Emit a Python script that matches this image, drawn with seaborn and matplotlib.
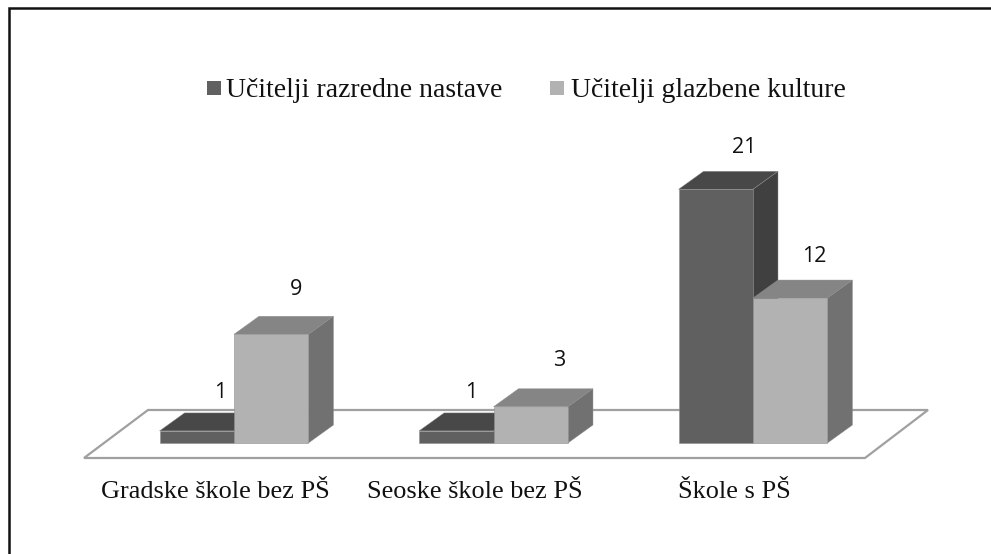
import matplotlib
matplotlib.use("Agg")
import matplotlib.pyplot as plt
import pandas as pd
import seaborn as sns
from matplotlib.lines import Line2D
from matplotlib.patches import Polygon, Rectangle

# data
kategorije = ["Gradske škole bez PŠ", "Seoske škole bez PŠ", "Škole s PŠ"]
razredna = [1, 1, 21]
glazbena = [9, 3, 12]
serije = ["Učitelji razredne nastave", "Učitelji glazbene kulture"]

W, H = 991, 554
PX_CAT = 259.5   # pixels between groups
PX_VAL = 12.08   # pixels per unit
X0, Y0 = 234, 443  # pixel of first group / baseline
DX, DY = 25, 18   # depth of the 3d boxes, pixels

# how far each number sits from its bar (pixels)
pomak_x = [23, 15, 28, 25, 28, 24]
pomak_y = [38, 38, 42, 45, 46, 42]

df = pd.DataFrame({
    "kat": kategorije * 2,
    "serija": [serije[0]] * 3 + [serije[1]] * 3,
    "broj": razredna + glazbena,
})

sns.set_theme(style="white")
fig = plt.figure(figsize=(W / 100, H / 100), dpi=100)
ax = fig.add_axes([0, 0, 1, 1])

boje = {serije[0]: "#606060", serije[1]: "#b2b2b2"}
vrh = {serije[0]: "#484848", serije[1]: "#858585"}
bok = {serije[0]: "#404040", serije[1]: "#717171"}
rub = "#909090"

sns.barplot(data=df, x="kat", y="broj", hue="serija", palette=boje, width=0.574,
            gap=0, saturation=1, legend=False, ax=ax, linewidth=0.4, edgecolor=rub)
sve = list(ax.patches)

ax.set_xlim(-X0 / PX_CAT, (W - X0) / PX_CAT)
ax.set_ylim((Y0 - H) / PX_VAL, Y0 / PX_VAL)
ax.axis("off")

dx, dy = DX / PX_CAT, DY / PX_VAL


def px(x, y):
    # pixel position (from top left) to data
    return ((x - X0) / PX_CAT, (Y0 - y) / PX_VAL)


# frame, only top and left edge are in the picture
ax.add_line(Line2D([1, 8.5 / W, 8.5 / W], [1 - 8 / H, 1 - 8 / H, 0], transform=ax.transAxes,
                   color="#111111", lw=1.8, solid_joinstyle="miter", zorder=1))
# floor
ax.add_patch(Polygon([px(84, 458), px(148, 410), px(928, 410), px(865, 458)], closed=True,
                     fc="white", ec="#a0a0a0", lw=1.6, zorder=2))

# 3d sides, later bars drawn over the earlier ones
vrijednosti = razredna + glazbena
for i, bar in enumerate(sve):
    ser = serije[0] if i < 3 else serije[1]
    x0, x1 = bar.get_x(), bar.get_x() + bar.get_width()
    h = bar.get_height()
    z = 3 if i < 3 else 4
    bar.set_zorder(z + 0.5)
    ax.add_patch(Polygon([(x0, h), (x0 + dx, h + dy), (x1 + dx, h + dy), (x1, h)], closed=True,
                         fc=vrh[ser], ec=rub, lw=0.3, zorder=z))
    ax.add_patch(Polygon([(x1, 0), (x1 + dx, dy), (x1 + dx, h + dy), (x1, h)], closed=True,
                         fc=bok[ser], ec=rub, lw=0.3, zorder=z))
    ax.text((x0 + x1) / 2 + pomak_x[i] / PX_CAT, h + pomak_y[i] / PX_VAL, str(vrijednosti[i]),
            ha="center", va="center", fontsize=15.5, family="Open Sans", color="#111111", zorder=6)

# category labels
for i, k in enumerate(kategorije):
    lx = [215, 475, 734][i]
    ax.text(*px(lx, 492), k, ha="center", va="center", fontsize=18.9,
            family="Liberation Serif", color="#111111")

# legend
for naziv, xk, xt in zip(serije, [207, 550], [226, 571]):
    ax.add_patch(Rectangle(px(xk, 95), 14 / PX_CAT, 14 / PX_VAL, fc=boje[naziv], ec="none"))
    ax.text(*px(xt, 90.5), naziv, ha="left", va="center", fontsize=20,
            family="Liberation Serif", color="#111111")

fig.savefig("out.png", dpi=100, facecolor="white")
